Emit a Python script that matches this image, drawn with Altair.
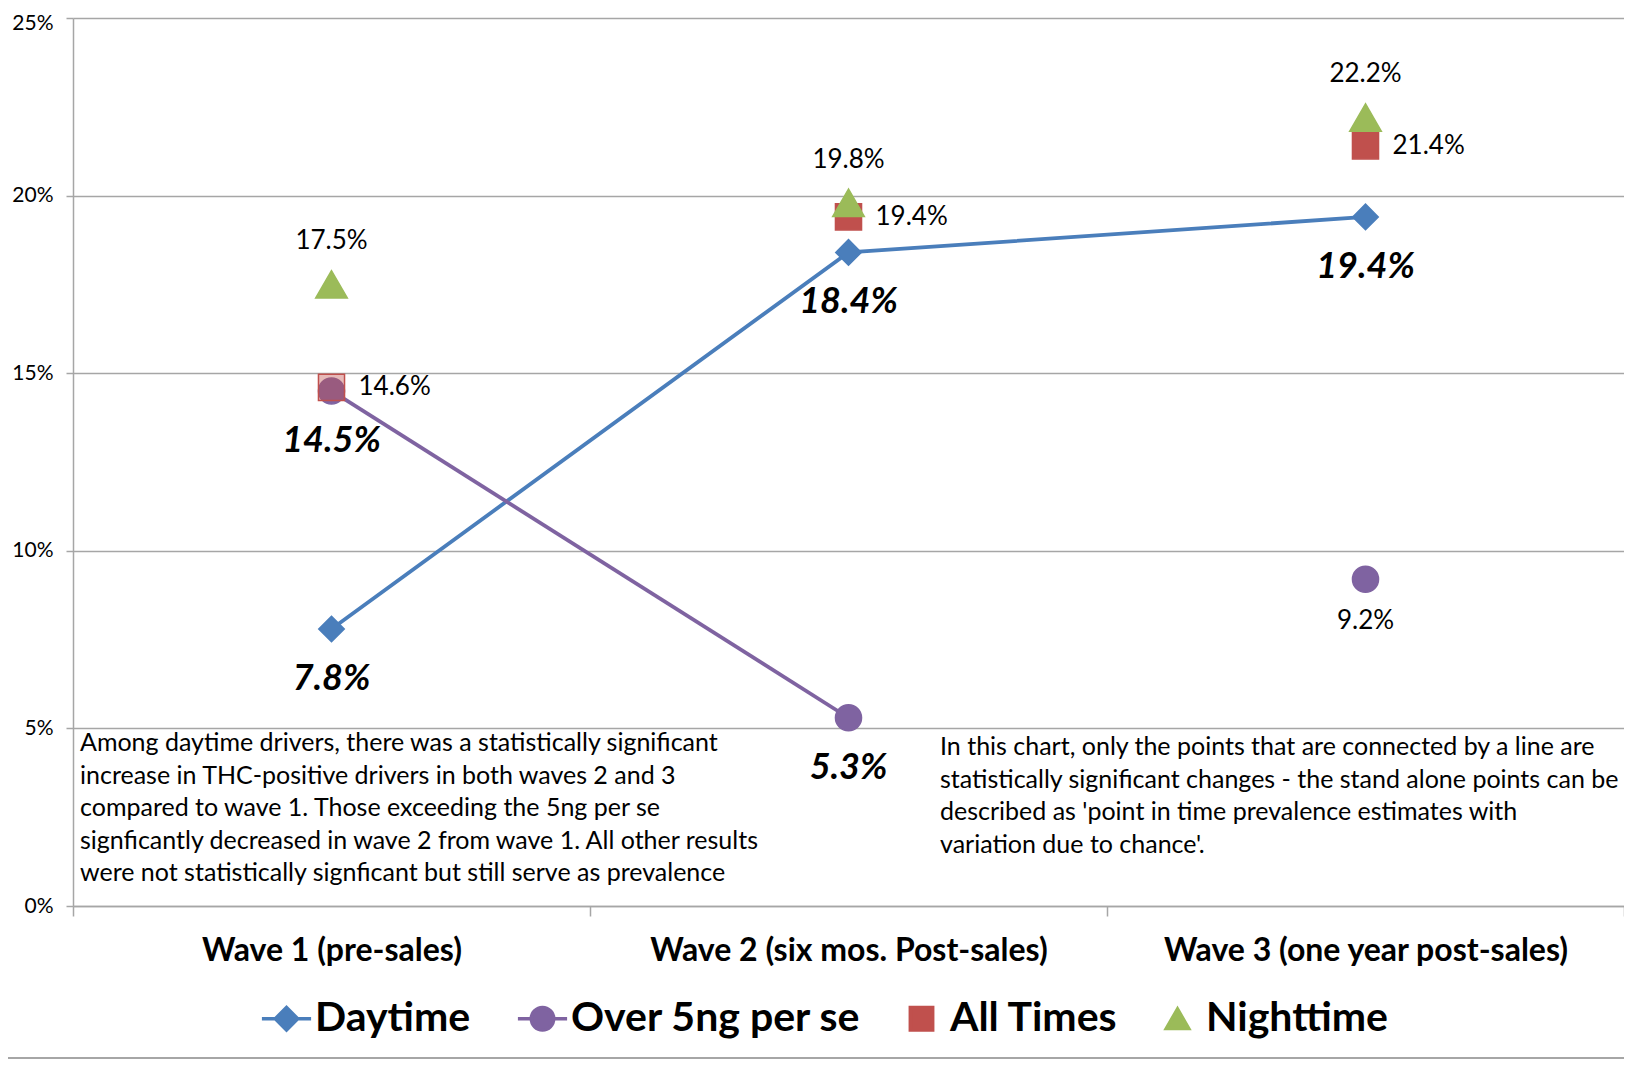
import altair as alt
import pandas as pd

# ---------------- data ----------------
waves = ["Wave 1 (pre-sales)", "Wave 2 (six mos. Post-sales)", "Wave 3 (one year post-sales)"]
series_names = ["Daytime", "Over 5ng per se", "All Times", "Nighttime"]
daytime = [7.8, 18.4, 19.4]
over_5ng = [14.5, 5.3, 9.2]
all_times = [14.6, 19.4, 21.4]
nighttime = [17.5, 19.8, 22.2]
# points connected by a line = statistically significant change
daytime_sig = [True, True, True]
over_5ng_sig = [True, True, False]
all_times_sig = [False, False, False]
nighttime_sig = [False, False, False]
y_ticks = [0, 5, 10, 15, 20, 25]

note_left = [
    "Among daytime drivers, there was a statistically significant",
    "increase in THC-positive drivers in both waves 2 and 3",
    "compared to wave 1. Those exceeding the 5ng per se",
    "signficantly decreased  in wave 2 from wave 1. All other results",
    "were not statistically signficant but still serve as prevalence",
]
note_right = [
    "In this chart, only the points that are connected by a line are",
    "statistically significant changes - the stand alone points can be",
    "described as 'point in time prevalence estimates with",
    "variation due to chance'.",
]

# ---------------- styles ----------------
colors = ["#4A7EBB", "#7F63A1", "#C0504D", "#9BBB59"]
shapes = ["diamond", "circle", "square", "triangle-up"]
sizes = [650, 680, 680, 1000]
legend_paths = [
    "M-2.2,0H-1M1,0H2.2M-1,0L0,-1L1,0L0,1Z",
    "M-2.2,0H-1M1,0H2.2M1,0A1,1,0,1,1,-1,0A1,1,0,1,1,1,0Z",
    "square",
    "triangle-up",
]
grid_c = "#A6A6A6"
FONT = "Lato"

rows = []
for name, vals, sig in zip(series_names,
                           [daytime, over_5ng, all_times, nighttime],
                           [daytime_sig, over_5ng_sig, all_times_sig, nighttime_sig]):
    for w, v, s in zip(waves, vals, sig):
        rows.append({"series": name, "wave": w, "value": v, "sig": s, "label": f"{v:.1f}%"})
df = pd.DataFrame(rows)

x = alt.X(
    "wave:N", sort=waves,
    scale=alt.Scale(type="band", domain=waves, paddingInner=0, paddingOuter=0),
    axis=alt.Axis(title=None, labelFontSize=32, labelFontWeight="bold", labelColor="black",
                  labelPadding=19, tickBand="extent", tickSize=10, tickColor=grid_c, tickWidth=1.5,
                  domainColor=grid_c, domainWidth=1.5, grid=False, labelAngle=0,
                  labelLimit=700, labelOverlap=False),
)
y = alt.Y(
    "value:Q",
    scale=alt.Scale(domain=[0, 25], nice=False),
    axis=alt.Axis(values=y_ticks, labelExpr="datum.value + '%'", title=None, grid=True,
                  gridColor=grid_c, gridWidth=1.5, tickSize=7, tickColor=grid_c, tickWidth=1.5,
                  domainColor=grid_c, domainWidth=1.5, labelFontSize=21, labelColor="black",
                  labelPadding=13,
                  labelOffset={"condition": {"test": "datum.value === 25", "value": 5}, "value": 0}),
)

base = alt.Chart(df)
layers = []

# connecting lines (only statistically significant changes)
for name, col in zip(series_names, colors):
    layers.append(
        base.transform_filter(f"datum.sig && datum.series === '{name}'")
        .mark_line(strokeWidth=3.8, color=col)
        .encode(x=x, y=y)
    )

# markers
for name, col, shp, sz in zip(series_names, colors, shapes, sizes):
    enc = dict(x=x, y=y)
    if name == "All Times":
        enc["fillOpacity"] = alt.condition(
            "datum.wave === 'Wave 1 (pre-sales)'", alt.value(0.4), alt.value(1))
    layers.append(
        base.transform_filter(f"datum.series === '{name}'")
        .mark_point(filled=True, shape=shp, size=sz, color=col, stroke=col,
                    strokeWidth=1.5, opacity=1)
        .encode(**enc)
    )

# legend only (no marks drawn: empty after filter, domain comes from the scale)
legend = alt.Legend(
    title=None, orient="none", direction="horizontal", legendX=193, legendY=980,
    labelFontSize=41, labelFontWeight="bold", labelColor="black", symbolSize=500,
    symbolStrokeWidth=3.5, columnPadding=39, labelOffset=8, padding=0, labelLimit=600,
)
legend_layer = base.transform_filter("false").mark_point(filled=True, opacity=1).encode(
    x=x, y=y,
    color=alt.Color("series:N", scale=alt.Scale(domain=series_names, range=colors), legend=legend),
    shape=alt.Shape("series:N", scale=alt.Scale(domain=series_names, range=legend_paths), legend=legend),
    stroke=alt.Stroke("series:N", scale=alt.Scale(domain=series_names, range=colors), legend=legend),
)
layers.append(legend_layer)

# value labels
layers.append(base.transform_filter("datum.sig").mark_text(
    fontSize=36, fontWeight="bold", fontStyle="italic", dy=50, color="black"
).encode(x=x, y=y, text="label:N"))
layers.append(base.transform_filter("datum.series === 'Over 5ng per se' && !datum.sig").mark_text(
    fontSize=26, dy=42, color="black"
).encode(x=x, y=y, text="label:N"))
layers.append(base.transform_filter("datum.series === 'All Times'").mark_text(
    fontSize=26, dx=27, align="left", color="black"
).encode(x=x, y=y, text="label:N"))
layers.append(base.transform_filter("datum.series === 'Nighttime'").mark_text(
    fontSize=26, dy=-43, color="black"
).encode(x=x, y=y, text="label:N"))

one = alt.Chart(pd.DataFrame({"k": [0]}))
layers.append(one.mark_text(align="left", baseline="top", fontSize=25, lineHeight=32.5, dy=3,
                            color="black").encode(
    x=alt.value(7), y=alt.datum(5), text=alt.value(note_left)))
layers.append(one.mark_text(align="left", baseline="top", fontSize=25, lineHeight=32.5, dy=7,
                            color="black").encode(
    x=alt.value(867), y=alt.datum(5), text=alt.value(note_right)))
layers.append(one.mark_rule(color=grid_c, strokeWidth=2).encode(
    x=alt.value(-65), x2=alt.value(1551), y=alt.value(1040)))

chart = alt.layer(*layers).properties(
    width=1551, height=888,
    autosize=alt.AutoSizeParams(type="none"),
    padding={"left": 65, "top": 10, "right": 0, "bottom": 153},
).configure(font=FONT).configure_view(stroke=None)

chart.save("out.html", embed_options={"renderer": "svg", "actions": False})
